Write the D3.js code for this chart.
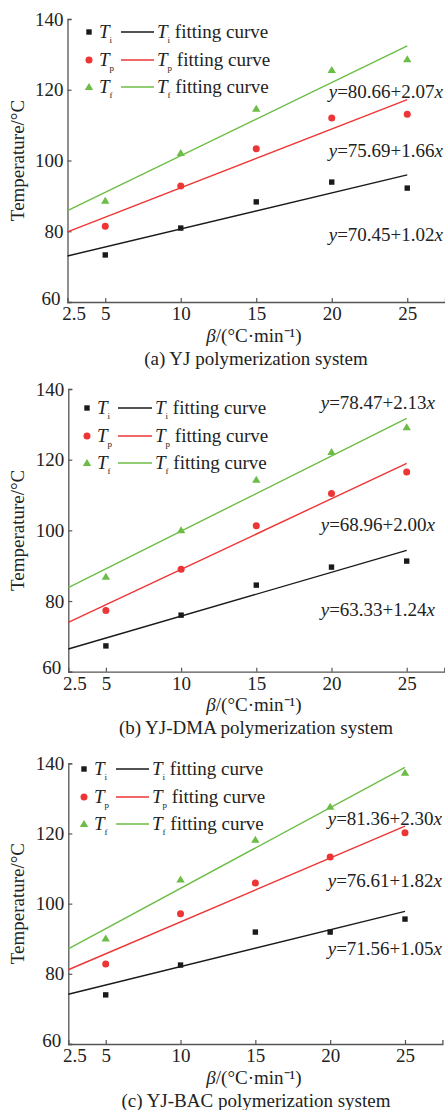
<!DOCTYPE html>
<html>
<head>
<meta charset="utf-8">
<script src="https://cdn.jsdelivr.net/npm/d3@7"></script>
<style>
  html, body { margin: 0; padding: 0; background: #fff; }
  svg { display: block; }
  svg text { font-family: "Liberation Serif", "Times New Roman", serif; }
</style>
</head>
<body>
<svg id="chart" width="445" height="1110"></svg>
<script>
// ── data ─────────────────────────────────────────
const BETA = [5, 10, 15, 20, 25];
const X_TICKS = [2.5, 5, 10, 15, 20, 25];
const Y_TICKS = [60, 80, 100, 120, 140];
const FIT_X = [2.5, 25];

const SERIES = ['Ti', 'Tp', 'Tf'];
const SUBS = ['i', 'p', 'f'];

// (a) YJ
const A_TI = [73.3, 80.9, 88.3, 93.9, 92.2];
const A_TP = [81.4, 92.8, 103.3, 112.0, 113.1];
const A_TF = [88.6, 102.1, 114.6, 125.6, 128.6];
const A_FIT = [[73.0, 95.95], [79.84, 117.19], [85.84, 132.41]];
const A_EQ = ['70.45+1.02', '75.69+1.66', '80.66+2.07'];

// (b) YJ-DMA
const B_TI = [67.3, 76.0, 84.5, 89.6, 91.3];
const B_TP = [77.3, 89.0, 101.3, 110.4, 116.5];
const B_TF = [86.9, 100.0, 114.3, 122.2, 129.2];
const B_FIT = [[66.43, 94.33], [73.96, 118.96], [83.80, 131.72]];
const B_EQ = ['63.33+1.24', '68.96+2.00', '78.47+2.13'];

// (c) YJ-BAC
const C_TI = [74.0, 82.5, 91.9, 91.9, 95.6];
const C_TP = [82.8, 97.1, 105.9, 113.3, 120.2];
const C_TF = [90.1, 106.9, 118.2, 127.6, 137.3];
const C_FIT = [[74.19, 97.81], [81.16, 122.11], [87.11, 138.86]];
const C_EQ = ['71.56+1.05', '76.61+1.82', '81.36+2.30'];

const CAPTIONS = [
  '(a) YJ polymerization system',
  '(b) YJ-DMA polymerization system',
  '(c) YJ-BAC polymerization system',
];

// ── style / layout ───────────────────────────────
const SERIF = '"Liberation Serif", "Times New Roman", serif';
const COLORS = ['#1a1a1a', '#ee3535', '#6cbd45'];
const AXIS = '#555';
const INK = '#222';
const FONT = 19;

const PANELS = [
  { top: 0,   x0: 67.5, x1: 445,   yTop: 19,   yBot: 302,   pts: [A_TI, A_TP, A_TF], fit: A_FIT, eq: A_EQ,
    leg: { x: 89, rows: [32, 60, 87], l0: 121, l1: 154 }, eqX: 443, eqY: [241, 157, 98] },
  { top: 370, x0: 68.3, x1: 444.3, yTop: 19,   yBot: 301.7, pts: [B_TI, B_TP, B_TF], fit: B_FIT, eq: B_EQ,
    leg: { x: 87, rows: [38, 66, 93], l0: 118, l1: 152 }, eqX: 435, eqY: [246, 161, 39] },
  { top: 740, x0: 68.3, x1: 442.4, yTop: 23.3, yBot: 304,   pts: [C_TI, C_TP, C_TF], fit: C_FIT, eq: C_EQ,
    leg: { x: 84, rows: [29, 57, 84], l0: 116, l1: 149 }, eqX: 442, eqY: [215, 147, 85] },
];

const svg = d3.select('#chart');

function txt(g, x, y) {
  return g.append('text').attr('x', x).attr('y', y)
    .attr('font-family', SERIF).attr('font-size', FONT).attr('fill', INK);
}

function marker(g, kind, cx, cy, color) {
  if (kind === 0) {
    g.append('rect').attr('x', cx - 2.7).attr('y', cy - 2.7)
      .attr('width', 5.4).attr('height', 5.4).attr('fill', color);
  } else if (kind === 1) {
    g.append('circle').attr('cx', cx).attr('cy', cy).attr('r', 3.5).attr('fill', color);
  } else {
    g.append('path')
      .attr('d', `M${cx},${cy - 4}L${cx + 4.2},${cy + 3}L${cx - 4.2},${cy + 3}Z`)
      .attr('fill', color);
  }
}

function tLabel(text, sub, rest) {
  text.append('tspan').attr('font-style', 'italic').text('T');
  text.append('tspan').attr('font-size', 9).attr('dy', 5).text(sub);
  if (rest) text.append('tspan').attr('dy', -5).text(rest);
}

PANELS.forEach((p, pi) => {
  const g = svg.append('g').attr('transform', `translate(0,${p.top})`);

  const x = d3.scaleLinear().domain([2.5, 27.5]).range([p.x0, p.x1]);
  const y = d3.scaleLinear().domain([60, 140]).range([p.yBot, p.yTop]);

  // Axes
  const ax = g.append('g').attr('transform', `translate(0,${p.yBot})`)
    .call(d3.axisBottom(x).tickValues(X_TICKS).tickSize(-4).tickPadding(2)
      .tickFormat(d => d));
  const ay = g.append('g').attr('transform', `translate(${p.x0},0)`)
    .call(d3.axisLeft(y).tickValues(Y_TICKS).tickSize(-4).tickPadding(4));
  [ax, ay].forEach(a => {
    a.attr('font-family', SERIF).attr('font-size', FONT);
    a.select('.domain').attr('stroke', AXIS).attr('stroke-width', 1.3);
    a.selectAll('.tick line').attr('stroke', AXIS).attr('stroke-width', 1.2);
    a.selectAll('.tick text').attr('fill', INK);
  });
  ax.selectAll('.tick text').attr('dy', '0.85em');
  // corner: 2.5 label nudged right, 60 label nudged up-left, as in the original
  const corner = ax.selectAll('.tick').filter(d => d === 2.5);
  corner.select('line').remove();
  corner.select('text').attr('x', 6);
  ay.selectAll('.tick').filter(d => d === 60).select('text')
    .attr('x', -7).attr('dy', '0.12em');

  // Fitting lines
  p.fit.forEach((f, si) => {
    const pts = FIT_X.map((xv, k) => [xv, f[k]]);
    g.append('path')
      .attr('d', d3.line().x(d => x(d[0])).y(d => y(d[1]))(pts))
      .attr('stroke', COLORS[si]).attr('stroke-width', 1.4).attr('fill', 'none');
  });

  // Points
  p.pts.forEach((vals, si) => {
    vals.forEach((v, k) => marker(g, si, x(BETA[k]), y(v), COLORS[si]));
  });

  // Equations
  p.eq.forEach((e, si) => {
    const t = txt(g, p.eqX, p.eqY[si]).attr('text-anchor', 'end');
    t.append('tspan').attr('font-style', 'italic').text('y');
    t.append('tspan').text('=' + e);
    t.append('tspan').attr('font-style', 'italic').text('x');
  });

  // Legend
  SERIES.forEach((s, si) => {
    const ry = p.leg.rows[si];
    marker(g, si, p.leg.x, ry, COLORS[si]);
    tLabel(txt(g, p.leg.x + 10, ry + 6), SUBS[si]);
    g.append('line').attr('x1', p.leg.l0).attr('x2', p.leg.l1)
      .attr('y1', ry).attr('y2', ry)
      .attr('stroke', COLORS[si]).attr('stroke-width', 1.4);
    tLabel(txt(g, p.leg.l1 + 3, ry + 6), SUBS[si], ' fitting curve');
  });

  // Axis titles
  txt(g, 0, 0)
    .attr('transform', `translate(24,${(p.yTop + p.yBot) / 2}) rotate(-90)`)
    .attr('text-anchor', 'middle')
    .text('Temperature/°C');

  const xt = txt(g, 254, p.yBot + 39.5).attr('text-anchor', 'middle');
  xt.append('tspan').attr('font-style', 'italic').text('β');
  xt.append('tspan').text('/(°C·min⁻¹)');

  txt(g, 256, p.yBot + 62.5).attr('text-anchor', 'middle').text(CAPTIONS[pi]);
});
</script>
</body>
</html>
